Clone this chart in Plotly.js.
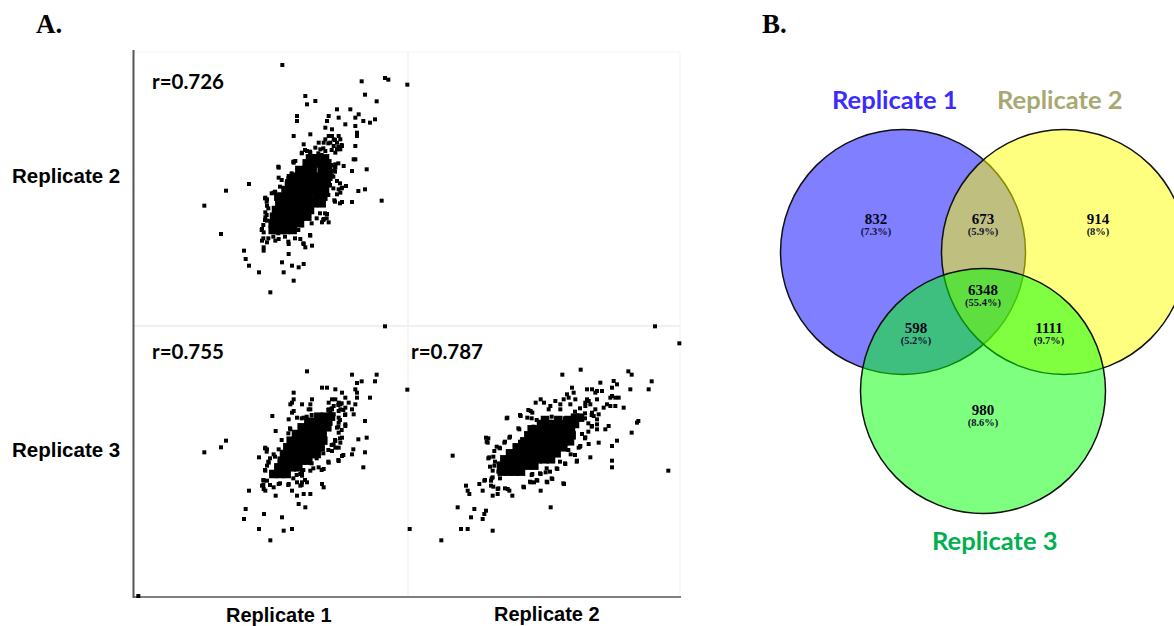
<!DOCTYPE html>
<html>
<head>
<meta charset="utf-8">
<script src="https://cdn.plot.ly/plotly-3.0.1.min.js"></script>
<style>html,body{margin:0;padding:0;background:#fff}#chart{width:1174px;height:626px}</style>
</head>
<body>
<div id="chart"></div>
<script>
// Values, in picture-reading units (y grows downward)
const r1r2X = [457,695,765,775,832,705,526,556,531,740,621,661,686,596,501,676,626,501,591,735,700,720,646,676,586,606,681,681,491,541,596,606,626,586,611,631,566,581,601,621,521,636,676,611,631,621,556,571,586,616,531,516,541,551,671,676,586,616,641,616,491,496,446,666,710,611,606,621,648,636,626,631,621,685,705,613,636,666,755,357,288,223,273,591,596,576,581,446,476,436,431,406,411,411,406,406,411,396,401,396,411,401,401,436,446,476,511,521,526,546,541,342,347,357,387,476,456,486,506,521,461,491,421,765,
  445,490,515,525,540,535,530,505,485,475,470,455,450,460,435,425,440,405,410,415,410,405,400,395,400,415,430,445,465,475,495,520,540,505,545,560,580,590,570,585,575,615,630,595,600,610,615,605,625,615,590,575,565,580,595,615,625,605,635,630,635,610];
const r1r2Y = [60,109,99,104,119,149,153,168,178,169,193,193,208,213,213,218,218,228,228,223,228,233,238,243,248,253,263,273,273,268,273,273,273,283,283,283,293,293,293,293,298,303,303,303,313,313,308,313,318,323,318,323,323,333,343,343,338,358,363,368,353,348,368,378,373,378,393,408,423,428,433,443,448,438,433,466,471,471,467,417,437,482,567,507,532,532,522,398,393,443,443,458,463,482,502,517,527,552,562,587,592,607,617,587,582,597,582,597,607,602,572,617,642,662,682,627,652,662,667,657,682,707,742,845,
  365,350,325,315,320,335,355,375,385,400,415,405,425,435,440,445,450,460,470,490,510,525,540,555,580,580,575,565,575,590,580,595,570,555,535,520,525,520,505,505,480,470,475,450,420,395,380,360,355,365,345,330,325,310,295,285,305,315,300,415,430,430];
const r1r2CoreX = [428,448,468,488,428,448,468,488,510,432,452,472,492,512,532,438,458,478,498,518,540,448,468,488,508,528,552,575,445,458,478,498,518,538,562,580,468,488,508,528,548,568,585,478,498,518,538,558,572,590,492,512,532,552,575,595,508,528,548,575,595,530,550,572,592,540,560,585];
const r1r2CoreY = [555,555,555,555,535,535,535,535,535,515,515,515,515,515,515,495,495,495,495,495,495,475,475,475,475,475,475,475,455,455,455,455,455,455,455,455,435,435,435,435,435,435,435,415,415,415,415,415,415,415,395,395,395,395,395,395,375,375,375,375,375,355,355,355,355,340,340,340];

const r1r3X = [531,666,740,695,735,681,576,591,616,676,681,832,491,636,681,720,646,491,546,616,606,486,481,541,516,596,626,656,631,676,611,646,666,536,541,596,606,631,491,486,646,671,427,626,601,611,591,626,501,476,521,705,646,646,626,621,437,481,626,636,616,631,685,710,288,273,223,611,616,626,670,636,666,705,626,596,700,566,581,606,406,411,387,431,416,411,406,446,516,511,516,541,401,411,396,401,406,431,446,476,501,516,531,511,576,581,357,437,486,501,521,541,506,526,347,342,402,456,387,461,486,421,839,765,25,
  405,410,420,405,415,435,455,475,480,515,530,545,565,595,605,625,635,640,645,630,625,635,630,615,605,595,580,560,545,575,595,625,640,550,520,500,490,515,475,450,420,400,400,525];
const r1r3Y = [154,164,164,184,184,189,203,203,208,208,218,209,218,218,233,233,233,238,238,238,238,248,253,253,253,248,248,248,253,253,258,263,268,268,268,268,268,268,273,278,283,283,288,273,278,283,288,293,293,298,293,303,313,318,308,323,333,328,338,353,363,368,358,353,362,382,397,373,383,383,388,408,403,397,423,428,442,442,447,393,383,388,412,403,428,437,452,388,457,462,467,452,482,482,497,507,512,502,492,492,487,487,487,497,492,502,512,527,512,527,522,522,552,562,567,597,582,592,627,632,627,661,627,19,828,
  385,395,415,450,425,410,360,340,325,295,290,285,295,270,265,255,250,270,285,300,320,330,355,360,375,390,400,415,430,450,425,420,405,445,450,465,475,495,495,490,495,480,495,480];
const r1r3CoreX = [430,450,470,445,465,485,505,455,475,495,515,535,462,482,502,522,542,560,472,492,512,532,552,572,482,502,522,542,562,580,498,518,538,558,578,515,535,555,575,592,535,555,575,595,565,585,603];
const r1r3CoreY = [462,462,462,442,442,442,442,422,422,422,422,422,402,402,402,402,402,402,382,382,382,382,382,382,362,362,362,362,362,362,342,342,342,342,342,322,322,322,322,322,305,305,305,305,290,290,290];

const r2r3X = [750,823,527,472,670,680,586,626,636,740,621,676,731,7,501,546,561,576,571,591,506,486,621,631,641,616,491,546,551,576,511,407,392,417,451,476,541,556,466,436,496,606,616,631,656,596,571,541,466,431,377,382,347,367,307,561,566,581,576,696,700,611,601,576,576,561,343,680,243,248,313,636,621,581,551,541,531,526,521,143,268,283,298,253,556,516,621,621,790,481,457,497,268,263,263,258,258,238,223,233,183,188,193,263,278,278,308,313,322,357,377,387,397,407,427,442,477,407,422,382,437,158,208,243,238,198,233,14,168,188,263,109,
  250,245,275,285,300,315,345,340,305,345,370,380,395,385,415,440,455,480,510,525,540,560,540,550,560,550,540,525,490,510,480,515,465,455,425,435,405,380,395,375,425,440,475,355,300,280,265,260,285,255,270,265,250,280,240];
const r2r3Y = [19,70,149,164,154,164,188,183,193,184,203,208,208,208,203,208,208,213,218,213,218,223,228,233,233,233,233,238,243,238,238,238,248,248,243,238,248,253,253,258,253,253,258,258,263,263,268,258,268,268,273,278,288,293,293,278,288,283,298,308,303,318,328,313,328,318,328,338,353,368,353,362,378,368,372,352,342,378,383,407,393,383,368,412,412,422,422,442,452,432,447,403,437,452,472,482,497,482,492,512,497,512,522,527,522,507,507,512,527,502,487,487,482,512,487,477,492,462,457,462,562,562,567,572,582,592,597,627,627,627,632,661,
  355,365,380,385,365,350,365,325,295,285,270,295,300,320,315,290,300,295,275,265,280,285,295,310,320,335,355,380,390,405,430,425,425,445,445,455,460,465,480,485,485,475,490,500,505,505,500,475,475,440,425,410,415,455,480];
const r2r3CoreX = [290,310,330,348,288,308,328,348,368,388,298,318,338,358,378,398,418,438,315,335,355,375,395,415,435,455,335,355,375,395,415,435,455,475,358,378,398,418,438,458,478,495,370,388,408,428,448,468,488,500,380,398,418,438,458,478,498,408,428,450,470,490,510,420,460,490,510,525];
const r2r3CoreY = [455,455,455,455,437,437,437,437,437,437,418,418,418,418,418,418,418,418,400,400,400,400,400,400,400,400,382,382,382,382,382,382,382,382,364,364,364,364,364,364,364,364,346,346,346,346,346,346,346,346,328,328,328,328,328,328,328,312,312,312,312,312,312,300,300,300,293,293];

const correlations = ["r=0.726", "r=0.755", "r=0.787"];
const setNames = ["Replicate 1", "Replicate 2", "Replicate 3"];
const regionCounts = ["832", "673", "914", "6348", "598", "1111", "980"];
const regionShares = ["(7.3%)", "(5.9%)", "(8%)", "(55.4%)", "(5.2%)", "(9.7%)", "(8.6%)"];

const W = 1174, H = 626;
const fx = p => p / W, fy = p => 1 - p / H;

function scatterAxis(L, R, T, B, ox, oy) {
  return [
    {domain: [fx(L), fx(R)], range: [(L - ox) * 3, (R - ox) * 3], visible: false, fixedrange: true},
    {domain: [fy(B), fy(T)], range: [(B - oy) * 3, (T - oy) * 3], visible: false, fixedrange: true}
  ];
}
const [xa1, ya1] = scatterAxis(134, 408, 52, 326, 130, 45);
const [xa2, ya2] = scatterAxis(134, 408, 326, 597, 130, 320);
const [xa3, ya3] = scatterAxis(408, 680, 326, 597, 405, 320);
xa2.anchor = 'y2'; ya2.anchor = 'x2'; xa3.anchor = 'y3'; ya3.anchor = 'x3';
xa1.anchor = 'y'; ya1.anchor = 'x';

// Venn panel: axis units equal screen pixels
const vL = 770, vR = 1174, vT = 120, vB = 526;
const xa4 = {domain: [fx(vL), fx(vR)], range: [vL, vR], visible: false, fixedrange: true, anchor: 'y4'};
const ya4 = {domain: [fy(vB), fy(vT)], range: [vB, vT], visible: false, fixedrange: true, anchor: 'x4'};
const regionX = [876, 983, 1098, 983, 916, 1049, 983];
const regionY = [220, 220, 220, 291, 329, 329, 411];
const shareY  = [232, 232, 232, 303, 341, 341, 423];
const circleX = [903, 1064, 983];
const circleY = [252, 252, 391];
const circleR = 122.5;
const circleFill = ['rgba(0,0,255,0.5)', 'rgba(255,255,0,0.5)', 'rgba(0,255,0,0.5)'];

function dots(x, y, xaxis, yaxis) {
  return {type: 'scatter', mode: 'markers', x, y, xaxis, yaxis, cliponaxis: false, hoverinfo: 'skip',
    marker: {symbol: 'square', size: 4, color: '#000'}};
}
function core(x, y, xaxis, yaxis) {
  return {type: 'scatter', mode: 'markers', x, y, xaxis, yaxis, cliponaxis: false, hoverinfo: 'skip',
    marker: {symbol: 'square', size: 8.5, color: '#000'}};
}
const data = [
  core(r1r2CoreX, r1r2CoreY, 'x', 'y'), dots(r1r2X, r1r2Y, 'x', 'y'),
  core(r1r3CoreX, r1r3CoreY, 'x2', 'y2'), dots(r1r3X, r1r3Y, 'x2', 'y2'),
  core(r2r3CoreX, r2r3CoreY, 'x3', 'y3'), dots(r2r3X, r2r3Y, 'x3', 'y3'),
  {type: 'scatter', mode: 'text', x: regionX, y: regionY, text: regionCounts, xaxis: 'x4', yaxis: 'y4', hoverinfo: 'skip',
    textfont: {family: 'Liberation Serif', size: 15, color: '#06061a', weight: 700}},
  {type: 'scatter', mode: 'text', x: regionX, y: shareY, text: regionShares, xaxis: 'x4', yaxis: 'y4', hoverinfo: 'skip',
    textfont: {family: 'Liberation Serif', size: 10.5, color: '#101030', weight: 700}}
];

const shapes = [];
function paperLine(x0, y0, x1, y1, color, width) {
  shapes.push({type: 'line', xref: 'paper', yref: 'paper', x0: fx(x0), x1: fx(x1), y0: fy(y0), y1: fy(y1),
    line: {color, width}, layer: 'below'});
}
// faint panel separators
paperLine(134, 52, 680, 52, '#f2f2f2', 1);
paperLine(134, 326, 680, 326, '#f0f0f0', 2);
paperLine(408, 52, 408, 597, '#f3f3f3', 1.5);
paperLine(680, 52, 680, 597, '#f3f3f3', 1);
// axes
paperLine(133.5, 50, 133.5, 598, '#555', 2);
paperLine(133, 597, 681, 597, '#555', 1.5);
circleX.forEach((cx, i) => shapes.push({
  type: 'circle', xref: 'x4', yref: 'y4',
  x0: cx - circleR, x1: cx + circleR, y0: circleY[i] - circleR, y1: circleY[i] + circleR,
  fillcolor: circleFill[i], line: {color: '#111', width: 1.5}, layer: 'below'
}));

function note(text, x, y, font, xanchor) {
  return {text, x: fx(x), y: fy(y), xref: 'paper', yref: 'paper', showarrow: false,
    xanchor: xanchor || 'center', yanchor: 'middle', font};
}
const serifHead = {family: 'Liberation Serif', size: 27, color: '#000', weight: 700};
const armBold = {family: 'Liberation Sans', size: 20.5, color: '#000', weight: 700};
const rowBold = {family: 'Liberation Sans', size: 20.5, color: '#000', weight: 700};
const colBold = {family: 'Liberation Sans', size: 20, color: '#000', weight: 700};
const rBold = {family: 'Lato', size: 20.5, color: '#000', weight: 700};
const vennHead = c => ({family: 'Lato', size: 25.5, color: c, weight: 700});
const annotations = [
  note('A.', 49, 24, serifHead), note('B.', 774, 24, serifHead),
  note(setNames[1], 65.5, 175, rowBold), note(setNames[2], 65.5, 449, rowBold),
  note(setNames[0], 279, 615, colBold), note(setNames[1], 547, 614, colBold),
  note(correlations[0], 150, 81, rBold, 'left'),
  note(correlations[1], 150, 351, rBold, 'left'),
  note(correlations[2], 409, 351, rBold, 'left'),
  note(setNames[0], 895, 99, vennHead('#3a2bff')),
  note(setNames[1], 1060, 99, vennHead('#a8a873')),
  note(setNames[2], 995, 540, vennHead('#00b050'))
];

Plotly.newPlot('chart', data, {
  width: W, height: H, margin: {l: 0, r: 0, t: 0, b: 0}, showlegend: false,
  paper_bgcolor: '#fff', plot_bgcolor: 'rgba(0,0,0,0)',
  xaxis: xa1, yaxis: ya1, xaxis2: xa2, yaxis2: ya2, xaxis3: xa3, yaxis3: ya3, xaxis4: xa4, yaxis4: ya4,
  shapes, annotations
}, {displayModeBar: false, staticPlot: true});
</script>
</body>
</html>
